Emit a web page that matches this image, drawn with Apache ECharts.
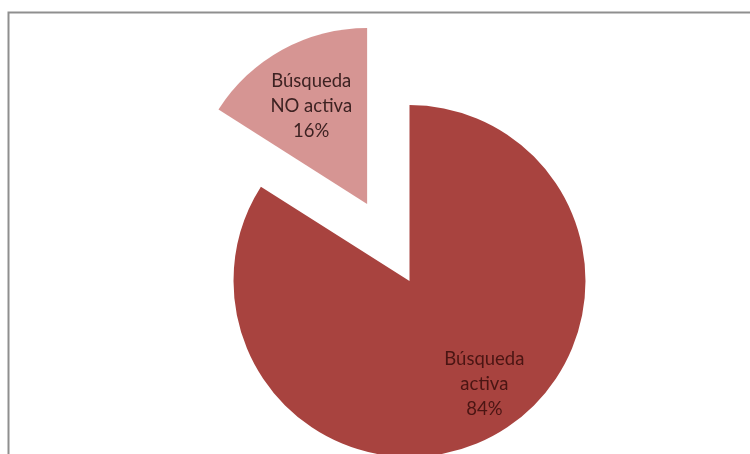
<!DOCTYPE html>
<html><head><meta charset="utf-8">
<script src="https://cdn.jsdelivr.net/npm/echarts@6/dist/echarts.min.js"></script>
<style>html,body{margin:0;padding:0;background:#fff}#c{width:750px;height:454px}</style>
</head><body><div id="c"></div>
<script>
const categories = ['Búsqueda\nactiva', 'Búsqueda\nNO activa'];
const values = [84, 16];
const colors = ['#A8433F', '#D69593'];
const textColors = ['#4a1513', '#3d2222'];
const labelOffsets = [[31, 23], [-12, -18]];

const chart = echarts.init(document.getElementById('c'), null, {renderer: 'canvas'});
chart.setOption({
  animation: false,
  backgroundColor: '#ffffff',
  graphic: [{
    type: 'rect', silent: true,
    shape: {x: 8.5, y: 12.5, width: 800, height: 500},
    style: {fill: 'none', stroke: '#8f8f8f', lineWidth: 2}
  }],
  series: [{
    type: 'pie',
    center: [409.5, 281],
    radius: [0, 176],
    startAngle: 90,
    clockwise: true,
    selectedMode: 'single',
    selectedOffset: 88,
    avoidLabelOverlap: false,
    emphasis: {disabled: true},
    labelLine: {show: false},
    label: {
      show: true,
      position: 'inside',
      formatter: p => p.name + '\n' + p.percent.toFixed(0) + '%',
      fontFamily: 'Lato',
      fontSize: 18.5,
      lineHeight: 25,
      align: 'center'
    },
    data: categories.map((c, i) => ({
      name: c,
      value: values[i],
      selected: i === 1,
      itemStyle: {color: colors[i]},
      label: {offset: labelOffsets[i], color: textColors[i]},
      select: {label: {offset: labelOffsets[i], color: textColors[i]}, itemStyle: {color: colors[i]}}
    }))
  }]
});
</script></body></html>
